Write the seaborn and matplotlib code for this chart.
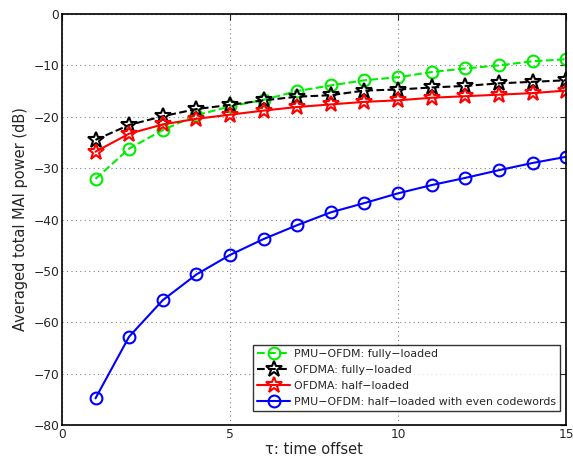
import matplotlib
matplotlib.use("Agg")
import matplotlib.pyplot as plt
import seaborn as sns
import numpy as np
import pandas as pd

tau = [1, 2, 3, 4, 5, 6, 7, 8, 9, 10, 11, 12, 13, 14, 15]
pmu_full = [-32.1, -26.2, -22.6, -19.7, -18.0, -16.7, -15.0, -13.9, -12.9, -12.3, -11.3, -10.6, -10.0, -9.2, -8.8]
ofdma_full = [-24.5, -21.6, -19.9, -18.5, -17.7, -16.8, -16.1, -15.8, -14.9, -14.7, -14.3, -14.0, -13.5, -13.2, -12.9]
ofdma_half = [-26.8, -23.3, -21.5, -20.4, -19.6, -18.8, -18.1, -17.6, -17.1, -16.8, -16.3, -16.0, -15.7, -15.4, -14.9]
pmu_half_even = [-74.8, -62.8, -55.7, -50.7, -46.9, -43.8, -41.1, -38.6, -36.8, -34.9, -33.3, -31.9, -30.4, -29.0, -27.8]

labels = ["PMU\u2212OFDM: fully\u2212loaded", "OFDMA: fully\u2212loaded",
          "OFDMA: half\u2212loaded", "PMU\u2212OFDM: half\u2212loaded with even codewords"]
series = [pmu_full, ofdma_full, ofdma_half, pmu_half_even]
colors = ["#00ee00", "black", "red", "blue"]
markers = ["o", "*", "*", "o"]
lstyles = ["--", "--", "-", "-"]
msizes = [8.5, 12, 12, 8.5]

df = pd.concat([pd.DataFrame({"tau": tau, "val": s, "series": l}) for s, l in zip(series, labels)])

sns.set_style("white")
plt.rcParams['font.family'] = ['DejaVu Sans']
fig = plt.figure(figsize=(5.73, 4.59), dpi=100)
ax = fig.add_axes([0.108, 0.074, 0.88, 0.8955])

for l, c, m, ls, ms in zip(labels, colors, markers, lstyles, msizes):
    sub = df[df.series == l]
    sns.lineplot(data=sub, x="tau", y="val", ax=ax, color=c, marker=m, linestyle=ls,
                 markersize=ms, markerfacecolor="none", markeredgecolor=c, markeredgewidth=1.5,
                 linewidth=1.5, label=l)

ax.set_xlim(0, 15)
ax.set_ylim(-80, 0)
ax.set_xticks([0, 5, 10, 15])
ax.set_yticks(np.arange(-80, 1, 10))
ax.set_yticklabels([f"\u2212{abs(v)}" if v < 0 else f"{v}" for v in range(-80, 1, 10)])
ax.grid(True, linestyle=(0, (1, 3)), color="gray", linewidth=0.8)
ax.tick_params(direction="in", top=True, right=True, labelsize=8.8, length=4, width=0.8, pad=2)
for s in ax.spines.values():
    s.set_color("black")
    s.set_linewidth(1.2)
ax.set_xlabel("\u03c4: time offset", fontsize=10.5, labelpad=1)
ax.set_ylabel("Averaged total MAI power (dB)", fontsize=10.5, labelpad=4)

leg = ax.legend(loc="lower right", bbox_to_anchor=(0.988, 0.033), fontsize=7.9, frameon=True,
                fancybox=False, edgecolor="black", handlelength=3.0, handletextpad=0.3,
                borderpad=0.4, labelspacing=0.55, borderaxespad=0.0)
leg.get_frame().set_linewidth(1.0)

fig.savefig("out.png", dpi=100)
